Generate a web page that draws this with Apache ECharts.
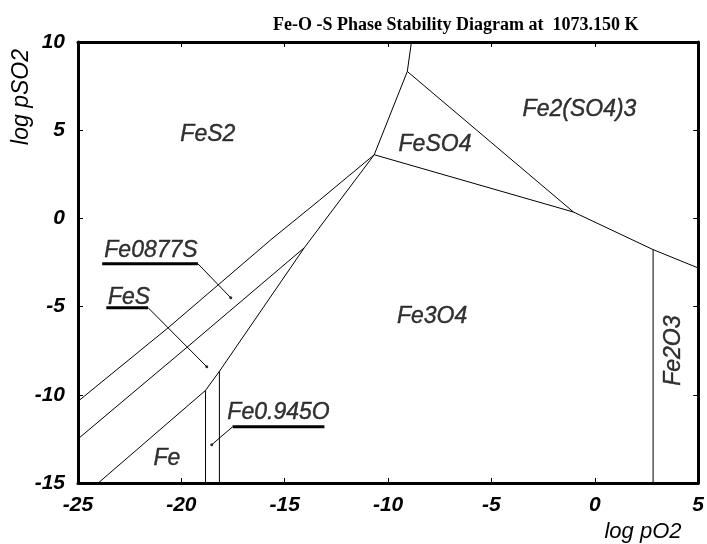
<!DOCTYPE html>
<html>
<head>
<meta charset="utf-8">
<script src="https://cdn.jsdelivr.net/npm/echarts@6/dist/echarts.min.js"></script>
<style>
  html, body { margin: 0; padding: 0; background: #fff; }
  #chart { width: 707px; height: 544px; }
</style>
</head>
<body>
<div id="chart"></div>
<script>
// Axis ranges / ticks
const xTicks = [-25, -20, -15, -10, -5, 0, 5];
const yTicks = [-15, -10, -5, 0, 5, 10];

// Phase boundaries as [log pO2, log pSO2] polylines
const fes2Fe2so43 = [[-8.87, 10], [-9.07, 8.33]];
const fes2Feso4 = [[-9.07, 8.33], [-10.67, 3.61]];
const feso4Fe2so43 = [[-9.07, 8.33], [-1.03, 0.36]];
const feso4Fe3o4 = [[-10.67, 3.61], [-1.03, 0.36]];
const fe3o4Fe2so43 = [[-1.03, 0.36], [2.82, -1.77]];
const fe2o3Fe2so43 = [[2.82, -1.77], [5, -2.81]];
const fe3o4Fe2o3 = [[2.82, -1.77], [2.82, -15]];
const fes2Fe0877s = [[-10.67, 3.61], [-13.32, 1.03], [-15.67, -1.21], [-20.65, -6.21], [-25, -10.37]];
const fe0877sFe3o4 = [[-10.67, 3.61], [-14.05, -1.66]];
const fe0877sFes = [[-14.05, -1.66], [-19.68, -7.26], [-25, -12.5]];
const fesFe3o4 = [[-14.05, -1.66], [-18.16, -8.67]];
const fesFe0945o = [[-18.16, -8.67], [-18.83, -9.75]];
const fesFe = [[-18.83, -9.75], [-24.02, -15]];
const fe0945oFe3o4 = [[-18.16, -8.67], [-18.16, -15]];
const feFe0945o = [[-18.83, -9.75], [-18.83, -15]];

const boundaries = [
  fes2Fe2so43, fes2Feso4, feso4Fe2so43, feso4Fe3o4, fe3o4Fe2so43, fe2o3Fe2so43,
  fe3o4Fe2o3, fes2Fe0877s, fe0877sFe3o4, fe0877sFes, fesFe3o4, fesFe0945o,
  fesFe, fe0945oFe3o4, feFe0945o
];

// Stability field names and where they are written
const fieldNames = ['FeS2', 'FeSO4', 'Fe2(SO4)3', 'Fe3O4', 'Fe2O3', 'Fe'];
const fieldAt = [[-18.72, 4.74], [-7.73, 4.18], [-0.74, 6.16], [-7.87, -5.57], [3.83, -7.5], [-20.7, -13.62]];

// Narrow fields labelled with an underlined callout and a leader to a dot
const calloutNames = ['Fe0877S', 'FeS', 'Fe0.945O'];
const calloutAt = [[-21.47, -1.83], [-22.53, -4.5], [-15.3, -11.02]];
const calloutBar = [
  [[-23.83, -2.57], [-19.2, -2.57]],
  [[-23.63, -5.06], [-21.61, -5.06]],
  [[-13.08, -11.81], [-17.52, -11.81]]
];
const calloutPoint = [[-17.61, -4.5], [-18.77, -8.41], [-18.53, -12.83]];

const FONT = 'Liberation Sans, Arial, sans-serif';
const INK = '#000';

const series = [];

boundaries.forEach(function (pts) {
  series.push({
    type: 'line', data: pts, symbol: 'none', silent: true, animation: false,
    lineStyle: { color: INK, width: 1 }
  });
});

calloutBar.forEach(function (bar, i) {
  series.push({
    type: 'line', data: bar, symbol: 'none', silent: true, animation: false,
    lineStyle: { color: INK, width: 3 }
  });
  series.push({
    type: 'line', data: [bar[1], calloutPoint[i]], symbol: 'none', silent: true, animation: false,
    lineStyle: { color: INK, width: 1 }
  });
});

series.push({
  type: 'scatter', data: calloutPoint, symbol: 'circle', symbolSize: 3,
  itemStyle: { color: INK }, silent: true, animation: false
});

function textSeries(names, at, rotateName) {
  return {
    type: 'scatter', symbolSize: 1, silent: true, animation: false,
    itemStyle: { color: 'rgba(0,0,0,0)' },
    data: names.map(function (n, i) {
      const d = { name: n, value: at[i] };
      if (n === rotateName) d.label = { rotate: 90 };
      return d;
    }),
    label: {
      show: true, position: 'inside', formatter: '{b}',
      color: INK, fontFamily: FONT, fontStyle: 'italic', fontSize: 23,
      textBorderColor: INK, textBorderWidth: 0.4
    }
  };
}
series.push(textSeries(fieldNames, fieldAt, 'Fe2O3'));
series.push(textSeries(calloutNames, calloutAt, null));

const axisLine = { show: true, onZero: false, lineStyle: { color: INK, width: 3 } };
const tick = { show: true, inside: true, length: 5, lineStyle: { color: INK, width: 1 } };
const tickLabel = {
  color: INK, fontFamily: FONT, fontStyle: 'italic', fontWeight: 'bold', fontSize: 21
};

const chart = echarts.init(document.getElementById('chart'), null, { renderer: 'canvas' });
chart.setOption({
  backgroundColor: '#fff',
  animation: false,
  title: {
    text: 'Fe-O -S Phase Stability Diagram at  1073.150 K',
    left: 268, top: 11,
    textStyle: { fontFamily: 'Liberation Serif, Times New Roman, serif', fontWeight: 'bold', fontSize: 18, color: INK }
  },
  grid: { left: 78, right: 7, top: 42, bottom: 61 },
  xAxis: [
    {
      type: 'value', min: xTicks[0], max: xTicks[xTicks.length - 1], interval: 5,
      axisLine: axisLine, axisTick: tick, splitLine: { show: false },
      axisLabel: Object.assign({ margin: 12 }, tickLabel)
    },
    {
      type: 'value', position: 'top', min: xTicks[0], max: xTicks[xTicks.length - 1], interval: 5,
      axisLine: axisLine, axisTick: tick, splitLine: { show: false }, axisLabel: { show: false }
    }
  ],
  yAxis: [
    {
      type: 'value', min: yTicks[0], max: yTicks[yTicks.length - 1], interval: 5,
      axisLine: axisLine, axisTick: tick, splitLine: { show: false },
      axisLabel: Object.assign({ margin: 13, padding: [6, 0, 0, 0] }, tickLabel)
    },
    {
      type: 'value', position: 'right', min: yTicks[0], max: yTicks[yTicks.length - 1], interval: 5,
      axisLine: axisLine, axisTick: tick, splitLine: { show: false }, axisLabel: { show: false }
    }
  ],
  graphic: [
    {
      type: 'text', x: 22, y: 97, rotation: Math.PI / 2,
      style: { text: 'log pSO2', fill: INK, font: 'italic 23px ' + FONT, align: 'center', verticalAlign: 'middle' }
    },
    {
      type: 'text', x: 643, y: 532,
      style: { text: 'log pO2', fill: INK, font: 'italic 22px ' + FONT, align: 'center', verticalAlign: 'middle' }
    }
  ],
  series: series
});
</script>
</body>
</html>
